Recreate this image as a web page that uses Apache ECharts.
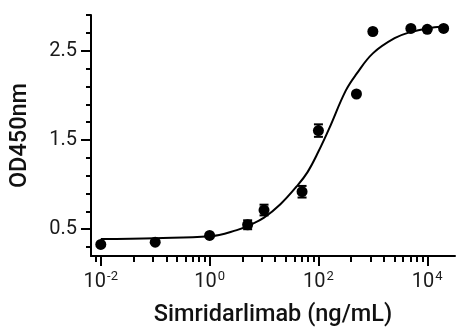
<!DOCTYPE html>
<html>
<head>
<meta charset="utf-8">
<script src="https://cdn.jsdelivr.net/npm/echarts@6/dist/echarts.min.js"></script>
<style>html,body{margin:0;padding:0;background:#fff}#c{width:473px;height:332px}</style>
</head>
<body>
<div id="c"></div>
<script>
// Measured points (concentration ng/mL, OD450)
const conc = [0.01, 0.1, 1, 5, 10, 50, 100, 500, 1000, 5000, 10000, 20000];
const od = [0.33, 0.355, 0.43, 0.55, 0.715, 0.92, 1.605, 2.015, 2.715, 2.75, 2.74, 2.75];
const odErr = [0, 0, 0, 0.05, 0.06, 0.065, 0.07, 0, 0, 0, 0, 0];
// Fitted curve
const curveConc = [0.01, 0.1, 1, 3.16, 5.62, 10, 20, 39.8, 63.1, 100, 158, 316, 501, 1000, 2512, 5012, 10000, 20000];
const curveOd = [0.39, 0.40, 0.42, 0.49, 0.55, 0.63, 0.78, 0.98, 1.14, 1.37, 1.63, 2.05, 2.24, 2.47, 2.64, 2.71, 2.75, 2.77];
// Axis ticks
const xMajorExp = [-2, 0, 2, 4];
const xMinorFactors = [2, 3, 4, 5, 6, 7, 8, 9];
const yLabels = [0.5, 1.5, 2.5];
const yMinor = [0.3, 0.7, 0.9, 1.1, 1.3, 1.7, 1.9, 2.1, 2.3, 2.7, 2.9];

const lg = v => Math.log10(v);
const xMin = -2.18, xMax = 4.51;
const xMinor = [];
[-4, -2, 0, 2].forEach(e => xMinorFactors.forEach(k => {
  const v = e + 2 * Math.log10(k);
  if (v > xMin && v < xMax) xMinor.push(v);
}));

const font = 'Roboto';
const chart = echarts.init(document.getElementById('c'));
const baseX = {
  type: 'value', min: xMin, max: xMax, gridIndex: 0, position: 'bottom',
  axisLine: {show: true, onZero: false, lineStyle: {color: '#000', width: 2}},
  splitLine: {show: false}
};
const baseY = {
  type: 'value', min: 0.2, max: 2.9, gridIndex: 0, position: 'left',
  axisLine: {show: true, onZero: false, lineStyle: {color: '#000', width: 2}},
  splitLine: {show: false}
};
chart.setOption({
  animation: false,
  backgroundColor: '#fff',
  grid: {left: 87, right: 18, top: 15, bottom: 75, containLabel: false},
  xAxis: [
    Object.assign({}, baseX, {
      name: 'Simridarlimab (ng/mL)', nameLocation: 'middle', nameGap: 47,
      nameTextStyle: {fontFamily: font, fontSize: 23.5, fontWeight: 500, color: '#111'},
      axisTick: {show: true, length: 10, lineStyle: {color: '#000', width: 2}, customValues: xMajorExp},
      axisLabel: {
        show: true, margin: 14, customValues: xMajorExp, fontFamily: font, fontSize: 20, color: '#1a1a1a',
        formatter: v => '10{s|' + Math.round(v) + '}',
        rich: {s: {fontFamily: font, fontSize: 13, color: '#1a1a1a', padding: [0, 0, 10, 1]}}
      }
    }),
    Object.assign({}, baseX, {
      axisLine: {show: false, onZero: false},
      axisTick: {show: true, length: 6, lineStyle: {color: '#000', width: 2}, customValues: xMinor},
      axisLabel: {show: false}
    })
  ],
  yAxis: [
    Object.assign({}, baseY, {
      name: 'OD450nm', nameLocation: 'middle', nameGap: 59,
      nameTextStyle: {fontFamily: font, fontSize: 23.5, fontWeight: 500, color: '#111'},
      axisTick: {show: true, length: 10, lineStyle: {color: '#000', width: 2}, customValues: yLabels},
      axisLabel: {show: true, margin: 14, customValues: yLabels, fontFamily: font, fontSize: 20, color: '#1a1a1a',
        formatter: v => v.toFixed(1)}
    }),
    Object.assign({}, baseY, {
      axisLine: {show: false, onZero: false},
      axisTick: {show: true, length: 5, lineStyle: {color: '#000', width: 2}, customValues: yMinor},
      axisLabel: {show: false}
    })
  ],
  series: [
    {
      type: 'line', xAxisIndex: 0, yAxisIndex: 0,
      data: curveConc.map((c, i) => [lg(c), curveOd[i]]),
      smooth: 0.4, showSymbol: false, symbol: 'none',
      lineStyle: {color: '#000', width: 2}, z: 2
    },
    {
      type: 'custom', xAxisIndex: 0, yAxisIndex: 0,
      data: conc.map((c, i) => [lg(c), od[i] - odErr[i], od[i] + odErr[i]]),
      renderItem: (params, api) => {
        const lo = api.coord([api.value(0), api.value(1)]);
        const hi = api.coord([api.value(0), api.value(2)]);
        const w = 4.5;
        const st = {stroke: '#000', lineWidth: 2};
        return {type: 'group', children: [
          {type: 'line', shape: {x1: lo[0], y1: lo[1], x2: hi[0], y2: hi[1]}, style: st},
          {type: 'line', shape: {x1: lo[0] - w, y1: lo[1], x2: lo[0] + w, y2: lo[1]}, style: st},
          {type: 'line', shape: {x1: hi[0] - w, y1: hi[1], x2: hi[0] + w, y2: hi[1]}, style: st}
        ]};
      }, z: 3
    },
    {
      type: 'scatter', xAxisIndex: 0, yAxisIndex: 0,
      data: conc.map((c, i) => [lg(c), od[i]]),
      symbol: 'circle', symbolSize: 11,
      itemStyle: {color: '#000', opacity: 1}, z: 4
    }
  ]
});
</script>
</body>
</html>
